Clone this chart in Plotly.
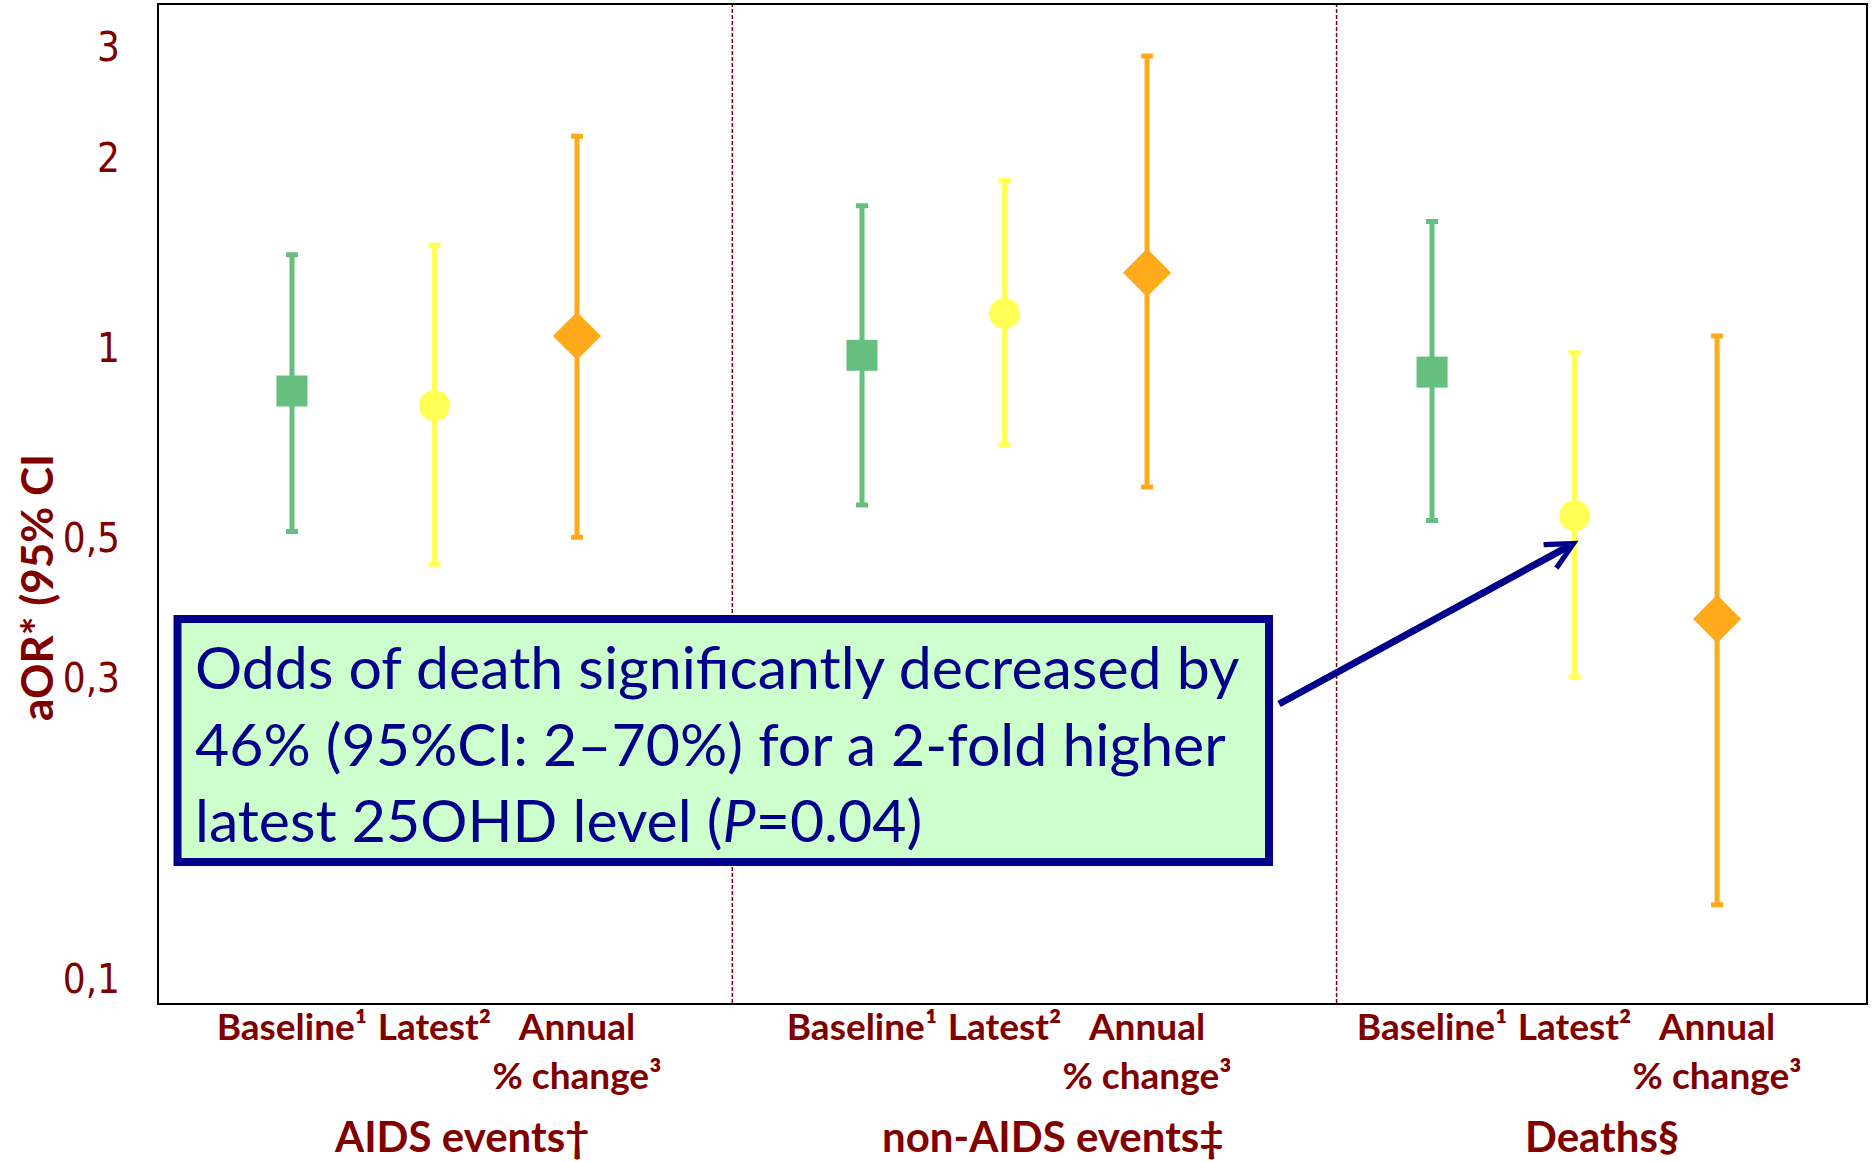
import math
import plotly.graph_objects as go

# ---- data ----
groups = ["AIDS events†", "non-AIDS events‡", "Deaths§"]
categories = ["Baseline¹", "Latest²", "Annual<br>% change³"]

baseline_or = [0.855, 0.974, 0.916]
baseline_lo = [0.512, 0.564, 0.533]
baseline_hi = [1.406, 1.682, 1.588]

latest_or = [0.811, 1.135, 0.542]
latest_lo = [0.454, 0.702, 0.301]
latest_hi = [1.456, 1.844, 0.983]

annual_or = [1.045, 1.317, 0.372]
annual_lo = [0.501, 0.602, 0.131]
annual_hi = [2.167, 2.904, 1.045]

ytick_vals = [0.1, 0.3, 0.5, 1, 2, 3]
ytick_text = ["0,1", "0,3", "0,5", "1", "2", "3"]

note_text = ("Odds of death significantly decreased by<br>"
             "46% (95%CI: 2–70%) for a 2-fold higher<br>"
             "latest 25OHD level (<i>P</i>=0.04)")

# ---- styling ----
MAROON = "#800000"
NAVY = "#00008B"
W, H = 1876, 1162
ML, MR, MT, MB = 159, 10, 5, 159
PW, PH = W - ML - MR, H - MT - MB

def px(x):
    return (x - ML) / PW

def py(y):
    return 1 - (y - MT) / PH

series = [
    (baseline_or, baseline_lo, baseline_hi, "#66BF7E", "square", 31),
    (latest_or, latest_lo, latest_hi, "#FFFF55", "circle", 31),
    (annual_or, annual_lo, annual_hi, "#FFAA1A", "diamond", 37),
]
GROUP_STEP = 4  # slots per group (3 categories + gap)

fig = go.Figure()
for ci, (orv, lo, hi, col, sym, sz) in enumerate(series):
    xs = [g * GROUP_STEP + ci for g in range(len(groups))]
    fig.add_trace(go.Scatter(
        x=xs, y=orv, mode="markers",
        marker=dict(symbol=sym, size=sz, color=col, line=dict(width=0)),
        error_y=dict(type="data", symmetric=False,
                     array=[h - o for h, o in zip(hi, orv)],
                     arrayminus=[o - l for o, l in zip(orv, lo)],
                     color=col, thickness=5, width=6),
        showlegend=False, cliponaxis=False,
    ))

tickvals, ticktext = [], []
for g in range(len(groups)):
    for ci, c in enumerate(categories):
        tickvals.append(g * GROUP_STEP + ci)
        ticktext.append(c)

xmin, xmax = -0.933, 11.045
fig.update_layout(
    width=W, height=H,
    margin=dict(l=ML, r=MR, t=MT, b=MB),
    paper_bgcolor="white", plot_bgcolor="white",
    xaxis=dict(range=[xmin, xmax], tickvals=tickvals, ticktext=ticktext,
               tickangle=0, automargin=False,
               showgrid=False, zeroline=False, showline=True, mirror=True,
               linecolor="black", linewidth=2, ticks="",
               tickfont=dict(family="Lato", size=37, color=MAROON, weight="bold"),
               ticklabelstandoff=-9),
    yaxis=dict(type="log", range=[math.log10(0.0915), math.log10(3.5)],
               tickvals=ytick_vals, ticktext=ytick_text, automargin=False,
               showgrid=False, zeroline=False, showline=True, mirror=True,
               linecolor="black", linewidth=2, ticks="",
               tickfont=dict(family="DejaVu Sans Condensed, DejaVu Sans", size=40,
                             color=MAROON),
               ticklabelstandoff=29),
)

# reference line at OR = 1
fig.add_shape(type="line", xref="paper", yref="y", x0=-0.006, x1=1,
              y0=math.log10(1), y1=math.log10(1),
              line=dict(color="#D9D9D9", width=4), layer="below")

# group separators
for sx in [3.09, 7.33]:
    fig.add_shape(type="line", xref="x", yref="paper", x0=sx, x1=sx, y0=0, y1=1,
                  line=dict(color=MAROON, width=1.5, dash="4px,2px"), layer="below")

# group titles
title_offsets = [0.19, 0.34, 0.19]
for g, name in enumerate(groups):
    fig.add_annotation(text=name, xref="x", yref="paper",
                       x=g * GROUP_STEP + 1 + title_offsets[g], y=0, yshift=-133,
                       xanchor="center", yanchor="middle", showarrow=False,
                       font=dict(family="Lato", size=42, color=MAROON, weight="bold"))

# y-axis title
fig.add_annotation(text="aOR* (95% CI", xref="paper", yref="paper",
                   x=0, xshift=-123, y=py(588), textangle=-90,
                   xanchor="center", yanchor="middle", showarrow=False,
                   font=dict(family="Lato", size=44, color=MAROON, weight="bold"))

# note box
fig.add_shape(type="rect", xref="paper", yref="paper",
              x0=px(177.5), x1=px(1269), y0=py(862), y1=py(619),
              fillcolor="#CCFFCC", line=dict(color=NAVY, width=8), layer="above")
fig.add_annotation(text=note_text, xref="paper", yref="paper",
                   x=px(193), y=py(743), xanchor="left", yanchor="middle",
                   align="left", showarrow=False,
                   font=dict(family="Lato", size=59, color=NAVY))

# arrow to the deaths "latest" point
fig.add_annotation(text="", xref="x", yref="y",
                   x=2 * GROUP_STEP + 1, y=math.log10(latest_or[2]),
                   xshift=4, yshift=-25, ax=-301, ay=164,
                   showarrow=True, arrowhead=5, arrowsize=0.75, arrowwidth=7,
                   arrowcolor=NAVY)

fig.write_html("out.html")
